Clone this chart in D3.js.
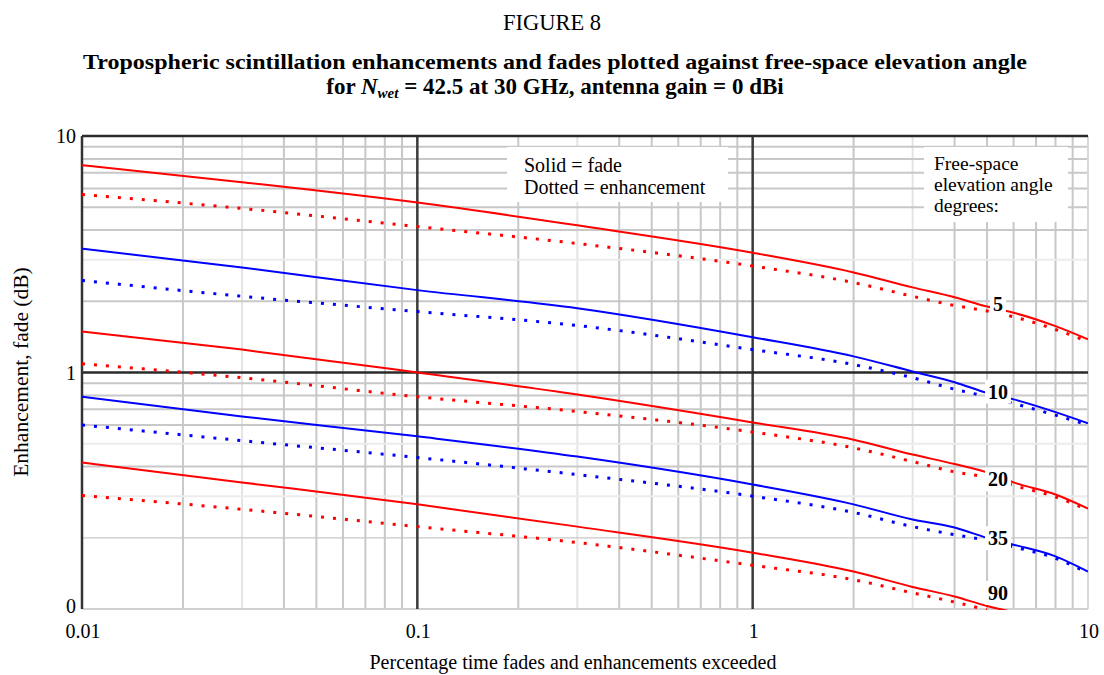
<!DOCTYPE html>
<html><head><meta charset="utf-8">
<script src="https://cdn.jsdelivr.net/npm/d3@7"></script>
<style>
body{margin:0;background:#fff;}
svg text{font-family:'Liberation Serif','Times New Roman',Times,serif;fill:#000;}
</style></head>
<body><svg id="c" width="1104" height="675"></svg>
<script>
const percent = [0.01, 0.03, 0.1, 0.3, 1, 2, 3, 4, 5, 6, 8, 10];
const fade5  = [7.53, 6.38, 5.23, 4.19, 3.21, 2.65, 2.29, 2.08, 1.90, 1.79, 1.57, 1.38];
const enh5   = [5.66, 4.94, 4.14, 3.51, 2.82, 2.40, 2.10, 1.92, 1.82, 1.72, 1.52, 1.35];
const fade10 = [3.34, 2.78, 2.23, 1.87, 1.41, 1.17, 1.01, 0.91, 0.82, 0.77, 0.68, 0.61];
const enh10  = [2.45, 2.10, 1.81, 1.58, 1.25, 1.08, 0.95, 0.85, 0.79, 0.74, 0.66, 0.60];
const fade20 = [1.49, 1.25, 1.00, 0.807, 0.615, 0.52, 0.45, 0.41, 0.378, 0.343, 0.305, 0.266];
const enh20  = [1.09, 0.95, 0.79, 0.684, 0.56, 0.48, 0.42, 0.38, 0.36, 0.333, 0.298, 0.262];
const fade35 = [0.79, 0.652, 0.537, 0.441, 0.336, 0.277, 0.239, 0.221, 0.20, 0.187, 0.167, 0.144];
const enh35  = [0.60, 0.515, 0.437, 0.37, 0.30, 0.256, 0.223, 0.206, 0.195, 0.183, 0.164, 0.142];
const fade90 = [0.416, 0.343, 0.277, 0.223, 0.173, 0.144, 0.124, 0.113, 0.103, 0.097, null, null];
const enh90  = [0.302, 0.264, 0.223, 0.191, 0.153, 0.133, 0.117, 0.107, 0.099, null, null, null];
const angles = ["5", "10", "20", "35", "90"];
const angleLabelAt = [1.94, 0.83, 0.353, 0.199, 0.117];
const xTickValues = [0.01, 0.1, 1, 10];
const xTickLabels = ["0.01", "0.1", "1", "10"];
const yTickValues = [0.1, 1, 10];
const yTickLabels = ["0", "1", "10"];

const series = [
  {v: fade5, c: "#ff0000", dot: false}, {v: enh5, c: "#ff0000", dot: true},
  {v: fade10, c: "#0000ff", dot: false}, {v: enh10, c: "#0000ff", dot: true},
  {v: fade20, c: "#ff0000", dot: false}, {v: enh20, c: "#ff0000", dot: true},
  {v: fade35, c: "#0000ff", dot: false}, {v: enh35, c: "#0000ff", dot: true},
  {v: fade90, c: "#ff0000", dot: false}, {v: enh90, c: "#ff0000", dot: true}
];

const svg = d3.select("#c");
const L = 82, R = 1088, T = 136, B = 609;
const x = d3.scaleLog().domain([0.01, 10]).range([L, R]);
const y = d3.scaleLog().domain([0.1, 10]).range([B, T]);
const txt = (sel) => sel.append("text");

// titles
txt(svg).attr("x", 552).attr("y", 30).attr("text-anchor", "middle")
  .style("font-size", "22.5px").text("FIGURE 8");
txt(svg).attr("x", 555).attr("y", 69).attr("text-anchor", "middle")
  .attr("textLength", 944).attr("lengthAdjust", "spacingAndGlyphs")
  .style("font-size", "22px").style("font-weight", "bold")
  .text("Tropospheric scintillation enhancements and fades plotted against free-space elevation angle");
const t2 = txt(svg).attr("x", 555).attr("y", 94).attr("text-anchor", "middle")
  .style("font-size", "23px").style("font-weight", "bold");
t2.append("tspan").text("for ");
t2.append("tspan").style("font-style", "italic").text("N");
t2.append("tspan").style("font-style", "italic").style("font-size", "15px").attr("dy", 4).text("wet");
t2.append("tspan").attr("dy", -4).text(" = 42.5 at 30 GHz, antenna gain = 0 dBi");

// grid
const g = svg.append("g");
const minorX = [], minorY = [];
[0.01, 0.1, 1].forEach(d => { for (let k = 2; k <= 9; k++) minorX.push(+(d * k).toPrecision(3)); });
[0.1, 1].forEach(d => { for (let k = 2; k <= 9; k++) minorY.push(+(d * k).toPrecision(3)); });
const lightX = v => [0.03, 0.3, 3].includes(v);
const lightY = v => [3, 0.5, 0.3].includes(v);
g.selectAll(".vx").data(minorX).enter().append("line")
  .attr("x1", d => x(d)).attr("x2", d => x(d)).attr("y1", T).attr("y2", B)
  .attr("stroke", d => lightX(d) ? "#e4e4e4" : "#c8c8c8").attr("stroke-width", 2);
g.selectAll(".hy").data(minorY).enter().append("line")
  .attr("x1", L).attr("x2", R).attr("y1", d => y(d)).attr("y2", d => y(d))
  .attr("stroke", d => lightY(d) ? "#ececec" : "#c8c8c8").attr("stroke-width", d => d === 0.2 ? 1.2 : 2);
// frame
g.append("line").attr("x1", R).attr("x2", R).attr("y1", T).attr("y2", B).attr("stroke", "#d8d8d8").attr("stroke-width", 2);
g.append("line").attr("x1", L).attr("x2", R).attr("y1", B).attr("y2", B).attr("stroke", "#d0d0d0").attr("stroke-width", 2);
[0.1, 1].forEach(v => g.append("line").attr("x1", x(v)).attr("x2", x(v)).attr("y1", T).attr("y2", B)
  .attr("stroke", "#3a3a3a").attr("stroke-width", 2.5));
g.append("line").attr("x1", L).attr("x2", R).attr("y1", y(1)).attr("y2", y(1)).attr("stroke", "#2a2a2a").attr("stroke-width", 2.5);
g.append("line").attr("x1", L).attr("x2", R).attr("y1", T).attr("y2", T).attr("stroke", "#2a2a2a").attr("stroke-width", 2.5);
g.append("line").attr("x1", L).attr("x2", L).attr("y1", T).attr("y2", B).attr("stroke", "#333").attr("stroke-width", 2.5);

// legend boxes
svg.append("rect").attr("x", 507).attr("y", 147).attr("width", 221).attr("height", 55).attr("fill", "#fff");
txt(svg).attr("x", 524).attr("y", 172).style("font-size", "20px").text("Solid = fade");
txt(svg).attr("x", 524).attr("y", 194).style("font-size", "20px").text("Dotted = enhancement");
svg.append("rect").attr("x", 924).attr("y", 147).attr("width", 144).attr("height", 75).attr("fill", "#fff");
["Free-space", "elevation angle", "degrees:"].forEach((s, i) =>
  txt(svg).attr("x", 934).attr("y", 170 + i * 21).style("font-size", "19.5px").text(s));

// series
svg.append("clipPath").attr("id", "clip").append("rect").attr("x", L).attr("y", T).attr("width", R - L).attr("height", B - T + 1);
const line = d3.line().defined(d => d[1] != null).x(d => x(d[0])).y(d => y(d[1])).curve(d3.curveMonotoneX);
const sg = svg.append("g").attr("clip-path", "url(#clip)");
series.forEach(s => {
  sg.append("path").datum(percent.map((p, i) => [p, s.v[i]]))
    .attr("d", line).attr("fill", "none").attr("stroke", s.c)
    .attr("stroke-width", s.dot ? 3 : 2)
    .attr("stroke-dasharray", s.dot ? "3,9" : null);
});

// angle labels
angles.forEach((a, i) => {
  const cy = y(angleLabelAt[i]);
  const w = a.length * 10 + 6;
  svg.append("rect").attr("x", 998 - w / 2).attr("y", cy - 12).attr("width", w).attr("height", 24).attr("fill", "#fff");
  txt(svg).attr("x", 998).attr("y", cy + 7).attr("text-anchor", "middle")
    .style("font-size", "20px").style("font-weight", "bold").text(a);
});

// axes labels
svg.selectAll(".xt").data(xTickValues).enter().append("text")
  .attr("x", d => x(d) + 1).attr("y", 638).attr("text-anchor", "middle").style("font-size", "20px")
  .text((d, i) => xTickLabels[i]);
svg.selectAll(".yt").data(yTickValues).enter().append("text")
  .attr("x", 76).attr("y", d => y(d) + (d === 0.1 ? 4 : 7)).attr("text-anchor", "end").style("font-size", "20px")
  .text((d, i) => yTickLabels[i]);
txt(svg).attr("x", 573).attr("y", 669).attr("text-anchor", "middle").style("font-size", "20px")
  .text("Percentage time fades and enhancements exceeded");
txt(svg).attr("transform", "translate(28,372) rotate(-90)").attr("text-anchor", "middle")
  .style("font-size", "21.5px").text("Enhancement, fade (dB)");
</script></body></html>
